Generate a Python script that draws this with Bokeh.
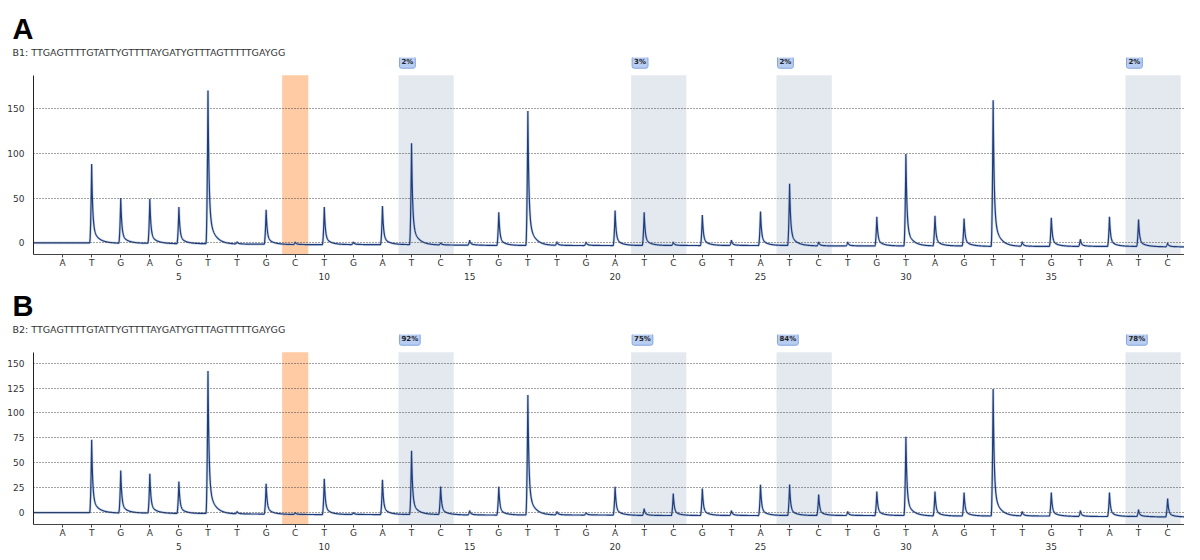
import numpy as np
from bokeh.plotting import figure
from bokeh.models import Range1d, FixedTicker, LinearAxis, BoxAnnotation, Label, Title
from bokeh.layouts import column
from bokeh.embed import file_html
from bokeh.resources import INLINE

# ---------------- data ----------------
dispensation = list("ATGAGTTGCTGATCTGTTGATCGTATCTGTAGTTGTATC")
number_ticks = [5, 10, 15, 20, 25, 30, 35]

panel_letters = ["A", "B"]
sequences = ["B1: TTGAGTTTTGTATTYGTTTTAYGATYGTTTAGTTTTTGAYGG",
             "B2: TTGAGTTTTGTATTYGTTTTAYGATYGTTTAGTTTTTGAYGG"]

# peak tops (signal units) per dispensation
tops_A = [0, 88, 50, 49, 40, 170, 1, 37, 1, 40, 1, 41, 111, 0, 3, 34, 147, 1, 1, 36,
          34, 1, 31, 3, 35, 66, 1, 1, 29, 99, 30, 27, 159, 1, 28, 4, 29, 26, 0]
tops_B = [0, 73, 42, 39, 31, 142, 1, 29, 0, 34, 0, 33, 62, 26, 2, 26, 118, 1, 0, 26,
          4, 19, 24, 2, 28, 28, 18, 1, 21, 76, 21, 20, 124, 1, 20, 2, 20, 3, 14]

# baseline level under each dispensation
base_A = [0, 0, -0.5, -0.5, -1, -1, -1.5, -1.5, -2, -2, -2, -2, -2, -2.5, -2.5, -3, -3, -3, -3, -3,
          -3, -3, -3, -3, -3, -3, -3.5, -3.5, -3.5, -3.5, -3.5, -3.5, -4, -4, -4, -4, -4, -4, -4.5]
base_B = [0, 0, -0.5, -0.5, -1, -1, -1.5, -1.5, -2, -2, -2, -2, -2, -2, -2.5, -2.5, -2.5, -2.5, -2.5, -2.5,
          -3, -3, -3, -3, -3, -3, -3, -3, -3, -3, -3.5, -3.5, -3.5, -3.5, -3.5, -4, -4, -4, -4.5]

y_ticks_A = [0, 50, 100, 150]
y_ticks_B = [0, 25, 50, 75, 100, 125, 150]
y_bounds = [(-13, 187), (-12, 161)]

snp_position = 9
cpg_pairs = [(13, 14), (21, 22), (26, 27), (38, 39)]
pct_A = ["2%", "3%", "2%", "2%"]
pct_B = ["92%", "75%", "84%", "78%"]

X_END = 39.58


def build_trace(tops, base):
    xs = np.arange(0, X_END, 0.005)
    pos = np.arange(1, len(tops) + 1)
    y = np.interp(xs, pos, base)
    for p_, top, bb in zip(pos, tops, base):
        amp = top - bb
        if amp <= 0:
            continue
        t = xs - p_
        s = np.zeros_like(t)
        r = (t > -0.07) & (t < 0)
        s[r] = ((t[r] + 0.07) / 0.07) ** 2
        d = t >= 0
        s[d] = 0.8 * np.exp(-t[d] / 0.035) + 0.2 * np.exp(-t[d] / 0.2)
        y += amp * s
    return xs, y


def make_panel(letter, seq, tops, base, yticks, yb, pcts, height, border_top, frame_h, band_px):
    units_per_px = (yb[1] - yb[0]) / band_px
    y_top = yb[1] + (frame_h - band_px) * units_per_px
    p = figure(width=1184, height=height, min_border_left=33, min_border_right=0,
               min_border_top=border_top, min_border_bottom=0,
               x_range=Range1d(0, X_END), y_range=Range1d(yb[0], y_top),
               output_backend="svg", toolbar_location=None, title=None)
    p.outline_line_color = None
    p.background_fill_color = "white"
    p.border_fill_color = "white"

    # bands
    p.add_layout(BoxAnnotation(left=snp_position - 0.45, right=snp_position + 0.45,
                               top=yb[1], fill_color="#ffcba4", fill_alpha=1.0,
                               line_color=None, level="underlay"))
    for (a, b), txt in zip(cpg_pairs, pcts):
        p.add_layout(BoxAnnotation(left=a - 0.45, right=b + 0.45, top=yb[1],
                                   fill_color="#e4e9f0", fill_alpha=1.0, line_color=None,
                                   level="underlay"))
        p.add_layout(Label(x=a - 0.45, y=yb[1], x_offset=1, y_offset=7, text=txt,
                           text_align="left", text_baseline="bottom",
                           text_font="DejaVu Sans", text_font_size="7px",
                           text_font_style="bold", text_color="#222222",
                           background_fill_color="#b8cdf2", background_fill_alpha=1.0,
                           border_line_color="#86a6de", border_line_width=1,
                           border_radius=2, padding=2))

    # grid
    p.xgrid.grid_line_color = None
    p.ygrid.ticker = FixedTicker(ticks=yticks)
    p.ygrid.grid_line_color = "#444444"
    p.ygrid.grid_line_dash = "1 2"
    p.ygrid.level = "glyph"

    # trace
    xs, ys = build_trace(tops, base)
    p.line(xs, ys, line_color="#9fb3d6", line_width=2.6, line_alpha=0.55)
    p.line(xs, ys, line_color="#1f3d7a", line_width=1.2)

    # y axis
    p.yaxis.ticker = FixedTicker(ticks=yticks)
    p.yaxis.bounds = yb
    p.yaxis.axis_line_color = "#222222"
    p.yaxis.major_tick_line_color = None
    p.yaxis.minor_tick_line_color = None
    p.yaxis.major_label_standoff = 3
    p.yaxis.major_label_text_font = "DejaVu Sans"
    p.yaxis.major_label_text_font_size = "9px"
    p.yaxis.major_label_text_color = "#333333"

    # x axis letters
    xa = p.xaxis[0]
    xa.ticker = FixedTicker(ticks=list(range(1, len(dispensation) + 1)))
    xa.major_label_overrides = {i + 1: c for i, c in enumerate(dispensation)}
    xa.axis_line_color = "#444444"
    xa.major_tick_line_color = "#444444"
    xa.major_tick_in = 0
    xa.major_tick_out = 3
    xa.minor_tick_line_color = None
    xa.major_label_standoff = 0
    xa.major_label_text_font = "DejaVu Sans"
    xa.major_label_text_font_size = "9px"
    xa.major_label_text_color = "#333333"

    # x axis numbers
    na = LinearAxis(ticker=FixedTicker(ticks=number_ticks))
    na.axis_line_color = None
    na.major_tick_line_color = None
    na.minor_tick_line_color = None
    na.major_tick_out = 0
    na.major_label_standoff = 2
    na.major_label_text_font = "DejaVu Sans"
    na.major_label_text_font_size = "9px"
    na.major_label_text_color = "#333333"
    p.add_layout(na, "below")

    # headings (closest to frame first)
    p.add_layout(Title(text=seq, align="left", offset=-21, standoff=0,
                       text_font="DejaVu Sans", text_font_size="9.5px",
                       text_font_style="normal", text_color="#333333"), "above")
    p.add_layout(Title(text=letter, align="left", offset=-21, standoff=0,
                       text_font="Liberation Sans", text_font_size="29px",
                       text_font_style="bold", text_color="#000000"), "above")
    return p


pA = make_panel(panel_letters[0], sequences[0], tops_A, base_A, y_ticks_A, y_bounds[0], pct_A,
                height=282, border_top=57, frame_h=200, band_px=182)
pB = make_panel(panel_letters[1], sequences[1], tops_B, base_B, y_ticks_B, y_bounds[1], pct_B,
                height=270, border_top=52, frame_h=193, band_px=175)

layout = column(pA, pB)
open("out.html", "w").write(file_html(layout, INLINE))
